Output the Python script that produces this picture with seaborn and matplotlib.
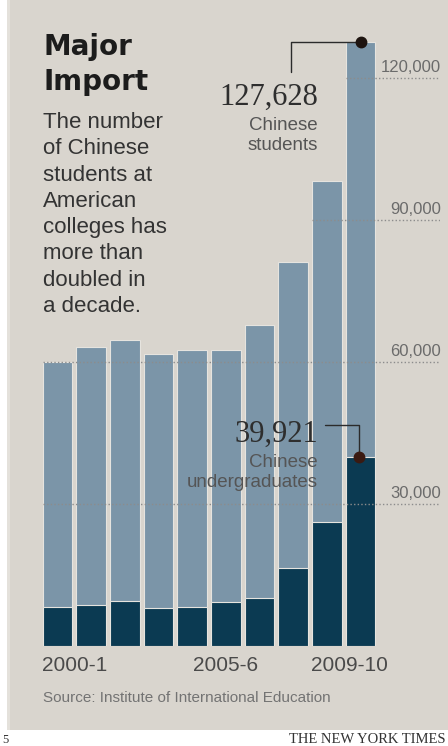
import numpy as np
import pandas as pd
import seaborn as sns
import matplotlib.pyplot as plt
from matplotlib.patches import Rectangle
from matplotlib.transforms import ScaledTranslation

# data (Institute of International Education)
years = ["2000-1", "2001-2", "2002-3", "2003-4", "2004-5",
         "2005-6", "2006-7", "2007-8", "2008-9", "2009-10"]
students = [59939, 63211, 64757, 61765, 62523, 62582, 67723, 81127, 98235, 127628]
undergrads = [8300, 8700, 9500, 8100, 8300, 9400, 10100, 16500, 26300, 39921]
grid_vals = [30000, 60000, 90000, 120000]
grid_labels = ["30,000", "60,000", "90,000", "120,000"]
tick_idx = [0, 5, 9]
tick_labels = ["2000-1", "2005-6", "2009-10"]

df = pd.DataFrame({"year": years, "students": students, "undergrads": undergrads})

bg = "#d9d5ce"
light = "#7b95a8"
dark = "#0b3a52"
W, H = 448, 746

sns.set_style("white")
plt.rcParams["font.family"] = ["Liberation Sans", "DejaVu Sans"]

fig = plt.figure(figsize=(W / 100, H / 100), dpi=100)
fig.patch.set_facecolor("white")
# beige panel
fig.patches.append(Rectangle((7 / W, 16 / H), 1, 1, transform=fig.transFigure,
                             facecolor=bg, edgecolor="none", zorder=-10))
fig.patches.append(Rectangle((7 / W, 16 / H), 3 / W, 1, transform=fig.transFigure,
                             facecolor="#e4e1db", edgecolor="none", zorder=-9))

px_unit = 33.67  # pixels per category
xmin, xmax = -0.43, -0.43 + 397 / px_unit
ax = fig.add_axes([43 / W, 100 / H, 397 / W, 641 / H])
ax.set_facecolor("none")

sns.barplot(data=df, x="year", y="students", color=light, saturation=1,
            width=0.88, edgecolor="#e6e4df", linewidth=0.8, ax=ax, zorder=2)
sns.barplot(data=df, x="year", y="undergrads", color=dark, saturation=1,
            width=0.88, edgecolor="#e6e4df", linewidth=0.8, ax=ax, zorder=2)

ax.set_xlim(xmin, xmax)
ax.set_ylim(0, 641 / 4.733 * 1000)
sns.despine(ax=ax, left=True, bottom=True, right=True, top=True)
ax.set_xlabel("")
ax.set_ylabel("")
ax.set_yticks([])

# dotted gridlines on top of the bars, starting at the first bar that reaches them
for v, lab in zip(grid_vals, grid_labels):
    first = next(i for i, s in enumerate(students) if s >= v - 1000)
    ax.hlines(v, first - 0.44, xmax, colors="#8c8c8c",
              linestyles=(0, (1, 1.6)), linewidth=1.0, zorder=3)
    t = ax.text(1.0, v, lab, ha="right", va="baseline", fontsize=12, color="#6b6b6b")
    t.set_transform(ax.get_yaxis_transform() + ScaledTranslation(0.01, 0.06, fig.dpi_scale_trans))

ax.set_xticks(tick_idx)
ax.set_xticklabels(tick_labels, fontsize=15, color="#4a4a4a")
ax.tick_params(axis="x", direction="out", length=4.5, width=1, color="#555555", pad=3)
labs = ax.get_xticklabels()
labs[0].set_ha("left")
labs[0].set_transform(labs[0].get_transform() + ScaledTranslation(-0.15, 0, fig.dpi_scale_trans))
labs[2].set_transform(labs[2].get_transform() + ScaledTranslation(-0.11, 0, fig.dpi_scale_trans))

# annotations
line_kw = dict(color="#2b2b2b", lw=1, zorder=4)
ax.plot([6.94, 6.94, 9], [121300, students[9], students[9]], **line_kw)
ax.plot([9], [students[9]], "o", ms=7.5, color="#1e1410", zorder=5)
ax.text(7.74, 114300, f"{students[9]:,}", ha="right", va="baseline",
        fontsize=22, color="#2e2e2e", family="Liberation Serif")
ax.text(7.74, 109000, "Chinese", ha="right", va="baseline", fontsize=13.5, color="#555555")
ax.text(7.74, 104800, "students", ha="right", va="baseline", fontsize=13.5, color="#555555")

ax.plot([7.95, 8.95, 8.95], [46700, 46700, undergrads[9]], **line_kw)
ax.plot([8.95], [undergrads[9]], "o", ms=7.5, color="#3a1a12", zorder=5)
ax.text(7.74, 43100, f"{undergrads[9]:,}", ha="right", va="baseline",
        fontsize=22, color="#2e2e2e", family="Liberation Serif", zorder=6)
ax.text(7.74, 37800, "Chinese", ha="right", va="baseline", fontsize=13.5, color="#555555", zorder=6)
ax.text(7.74, 33600, "undergraduates", ha="right", va="baseline", fontsize=13.5, color="#555555", zorder=6)


def ftext(x, y, s, **kw):
    fig.text(x / W, 1 - y / H, s, va="baseline", **kw)


ftext(43, 55, "Major", fontsize=20, fontweight="bold", family="DejaVu Sans", color="#1c1c1c")
ftext(43, 90, "Import", fontsize=20, fontweight="bold", family="DejaVu Sans", color="#1c1c1c")
body = ["The number", "of Chinese", "students at", "American",
        "colleges has", "more than", "doubled in", "a decade."]
for i, line in enumerate(body):
    ftext(43, 128 + i * 26.3, line, fontsize=16, color="#333333")

ftext(43, 702, "Source: Institute of International Education", fontsize=11, color="#737373")
ftext(446, 743, "THE NEW YORK TIMES", fontsize=10.5, color="#333333",
      family="Liberation Serif", ha="right")
ftext(2, 743, "5", fontsize=9, color="#333333", family="Liberation Serif")

fig.savefig("out.png", dpi=100, facecolor=fig.get_facecolor())
